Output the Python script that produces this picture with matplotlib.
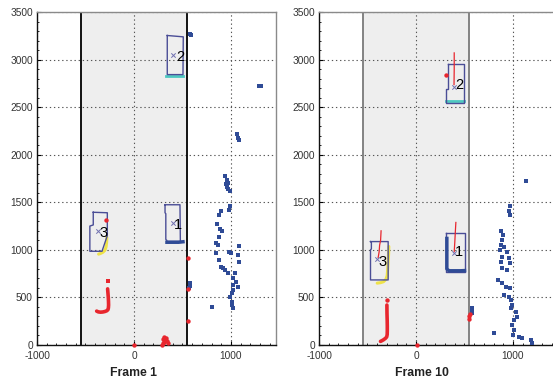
import matplotlib
matplotlib.use("Agg")
import matplotlib.pyplot as plt
from matplotlib.transforms import blended_transform_factory
from matplotlib.ticker import MultipleLocator

# ---------------- data ----------------
x_ticks = [-1000, 0, 1000]
y_ticks = [0, 500, 1000, 1500, 2000, 2500, 3000, 3500]
zone_limits = [-550, 550]
titles = ["Frame 1", "Frame 10"]

# Frame 1 ------------------------------------------------
f1_blue_x = [938, 955, 966, 955, 973, 990, 990, 983, 893, 880, 859, 887, 904, 880, 845, 869,
             845, 983, 997, 1086, 1076, 1086, 880, 893, 921, 938, 973, 1041, 1024, 1052, 1076,
             1017, 1024, 1007, 990, 1007, 1007, 1017, 801, 577, 577, 570, 1289, 1305, 1072, 1080,
             1062, 577, 592, 948, 955]
f1_blue_y = [1779, 1737, 1702, 1667, 1639, 1614, 1456, 1421, 1404, 1368, 1274, 1218, 1203, 1140,
             1070, 1053, 965, 982, 965, 1042, 947, 877, 895, 825, 807, 789, 761, 754, 702, 667,
             614, 632, 579, 544, 509, 456, 421, 386, 403, 653, 625, 600, 2727, 2720, 2178, 2150,
             2215, 3266, 3260, 1690, 1660]
f1_red_x = [560, 560, 560, 5, 290, 300, 310, 320, 330, 310, 340, 350, 295, -289]
f1_red_y = [912, 588, 255, 5, 5, 20, 35, 55, 70, 85, 40, 20, 60, 1309]
f1_j_x = [-272, -268, -265, -263, -262, -264, -268, -280, -300, -322, -345, -368, -385]
f1_j_y = [590, 540, 500, 460, 420, 390, 372, 360, 352, 347, 345, 348, 356]
f1_jdot = ([-272], [673])
f1_yellow_x = [-280, -282, -288, -300, -320, -345, -365]
f1_yellow_y = [1130, 1080, 1030, 995, 975, 962, 955]
f1_cyan_x = [330, 508]
f1_cyan_y = [2830, 2830]
f1_darkblue_x = [340, 380, 420, 460, 505]
f1_darkblue_y = [1080, 1080, 1080, 1080, 1085]
f1_boxes = [
    ([343, 508, 505, 343, 343], [3253, 3239, 2842, 2842, 3253]),
    ([320, 474, 478, 340, 338, 328, 328, 320, 320], [1474, 1474, 1088, 1088, 1100, 1110, 1380, 1390, 1474]),
    ([-420, -275, -275, -330, -455, -455, -420, -420], [1395, 1390, 1150, 985, 985, 1250, 1262, 1395]),
]
f1_labels = ["2", "1", "3"]
f1_label_x = [474, 457, -316]
f1_label_y = [3028, 1263, 1182]
f1_cross_x = [405, 405, -374]
f1_cross_y = [3053, 1284, 1200]

# Frame 10 -----------------------------------------------
f10_blue_x = [1131, 969, 959, 969, 879, 900, 890, 872, 907, 865, 941, 890, 959, 872, 969, 890,
              941, 848, 890, 924, 969, 907, 959, 976, 993, 983, 1028, 1045, 1010, 993, 1010,
              1003, 1062, 1097, 803, 1190, 1193, 575, 578, 580]
f10_blue_y = [1726, 1456, 1404, 1368, 1193, 1158, 1105, 1053, 1035, 1000, 982, 930, 912, 877,
              860, 807, 789, 684, 649, 614, 596, 526, 509, 474, 421, 386, 351, 298, 263, 211,
              158, 105, 88, 77, 123, 53, 18, 390, 365, 340]
f10_red_x = [545, 550, 555, 7, 308, -300]
f10_red_y = [270, 300, 330, 5, 2842, 474]
f10_j_x = [-300, -299, -297, -296, -296, -297, -302, -315, -335, -352, -366]
f10_j_y = [420, 330, 260, 200, 150, 110, 85, 70, 55, 45, 38]
f10_yellow_x = [-280, -282, -287, -292, -297, -310, -335, -365, -400]
f10_yellow_y = [1035, 960, 880, 800, 730, 690, 665, 655, 650]
f10_cyan_x = [308, 490]
f10_cyan_y = [2560, 2560]
f10_darkblue_x = [318, 318, 318, 318, 318, 340, 380, 420, 460, 500]
f10_darkblue_y = [1120, 1040, 960, 880, 800, 780, 780, 780, 780, 782]
f10_boxes = [
    ([325, 490, 490, 308, 308, 325, 325], [2954, 2954, 2544, 2544, 2691, 2691, 2954]),
    ([314, 505, 505, 314, 314], [1175, 1175, 772, 772, 1175]),
    ([-469, -287, -287, -469, -469, -460, -460, -469], [1087, 1087, 684, 684, 1000, 1010, 1080, 1087]),
]
f10_labels = ["2", "1", "3"]
f10_label_x = [446, 446, -349]
f10_label_y = [2737, 982, 877]
f10_cross_x = [394, 394, -401]
f10_cross_y = [2716, 965, 902]
f10_redlines = [
    ([394, 394, 392], [3070, 2900, 2737]),
    ([411, 405, 400, 394], [1288, 1180, 1080, 982]),
    ([-360, -365, -375, -380, -390], [1200, 1100, 1050, 980, 920]),
]

# ---------------- style ----------------
RED = "#e8262e"
BLUE = "#2f4b96"
BOXC = "#4a4d96"
YEL = "#eee24a"
CYAN = "#4cc8c0"
plt.rcParams["font.family"] = ["Liberation Sans", "DejaVu Sans"]
plt.rcParams["axes.unicode_minus"] = False

W, H = 553, 384
fig = plt.figure(figsize=(W / 100, H / 100), dpi=100)
bottom = (H - 345) / H
height = (345 - 12) / H
ax1 = fig.add_axes([37 / W, bottom, 239 / W, height])
ax2 = fig.add_axes([319 / W, bottom, 239 / W, height])

frames = [
    dict(blue=(f1_blue_x, f1_blue_y), red=(f1_red_x, f1_red_y), j=(f1_j_x, f1_j_y),
         yellow=(f1_yellow_x, f1_yellow_y), cyan=(f1_cyan_x, f1_cyan_y),
         dblue=(f1_darkblue_x, f1_darkblue_y), boxes=f1_boxes, labels=f1_labels,
         lx=f1_label_x, ly=f1_label_y, cx=f1_cross_x, cy=f1_cross_y, redlines=[],
         jdot=f1_jdot, zone_color="black"),
    dict(blue=(f10_blue_x, f10_blue_y), red=(f10_red_x, f10_red_y), j=(f10_j_x, f10_j_y),
         yellow=(f10_yellow_x, f10_yellow_y), cyan=(f10_cyan_x, f10_cyan_y),
         dblue=(f10_darkblue_x, f10_darkblue_y), boxes=f10_boxes, labels=f10_labels,
         lx=f10_label_x, ly=f10_label_y, cx=f10_cross_x, cy=f10_cross_y, redlines=f10_redlines,
         jdot=None, zone_color="#7a7a7a"),
]

for ax, fr, title in zip([ax1, ax2], frames, titles):
    ax.set_xlim(-1000, 1464)
    ax.set_ylim(0, 3500)
    ax.axvspan(zone_limits[0], zone_limits[1], color="#eeeeee", zorder=0, lw=0)
    for zl in zone_limits:
        ax.axvline(zl, color=fr["zone_color"], lw=1.3, zorder=2)
    ax.set_xticks(x_ticks)
    ax.set_yticks(y_ticks)
    ax.yaxis.set_minor_locator(MultipleLocator(100))
    ax.xaxis.set_minor_locator(MultipleLocator(100))
    ax.grid(True, which="major", linestyle=(0, (1.2, 2.5)), color="#555555", lw=0.8, zorder=1)
    ax.tick_params(axis="both", which="major", direction="in", length=3, width=0.8,
                   labelsize=7.3, labelcolor="#333333")
    ax.tick_params(axis="x", which="major", pad=4.5)
    ax.tick_params(axis="y", which="major", pad=3)
    ax.tick_params(axis="both", which="minor", direction="in", length=1.5, width=0.6)
    for s in ["top", "right"]:
        ax.spines[s].set_color("#8a8a8a")
        ax.spines[s].set_linewidth(1.0)
    for s in ["left", "bottom"]:
        ax.spines[s].set_color("#111111")
        ax.spines[s].set_linewidth(1.0)

    ax.plot(*fr["yellow"], color=YEL, lw=2.2, zorder=3, solid_capstyle="round")
    ax.plot(*fr["cyan"], color=CYAN, lw=2.0, zorder=3)
    for bx, by in fr["boxes"]:
        ax.plot(bx, by, color=BOXC, lw=1.0, zorder=4)
    ax.plot(*fr["dblue"], color=BLUE, lw=2.5, zorder=4)
    for rx, ry in fr["redlines"]:
        ax.plot(rx, ry, color=RED, lw=0.9, zorder=5)
    ax.plot(*fr["j"], color=RED, lw=2.6, zorder=4, solid_capstyle="round")
    if fr["jdot"] is not None:
        ax.scatter(*fr["jdot"], s=10, color=RED, marker="s", zorder=4, lw=0)
    ax.scatter(*fr["blue"], s=9, color=BLUE, marker="s", zorder=4, lw=0)
    ax.scatter(*fr["red"], s=10, color=RED, marker="o", zorder=4, lw=0, clip_on=False)
    ax.scatter(fr["cx"], fr["cy"], s=10, color="#7070b0", marker="x", lw=0.7, zorder=5)
    for lab, lx, ly in zip(fr["labels"], fr["lx"], fr["ly"]):
        ax.text(lx, ly, lab, fontsize=10.5, color="black", ha="center", va="center", zorder=6)

    tr = blended_transform_factory(ax.transData, ax.transAxes)
    ax.text(0 if title == "Frame 1" else 60, -(373 - 345) / 333, title, transform=tr,
            ha="center", va="center", fontsize=8.8, fontweight="bold", color="#222222")

fig.savefig("out.png", dpi=100)
